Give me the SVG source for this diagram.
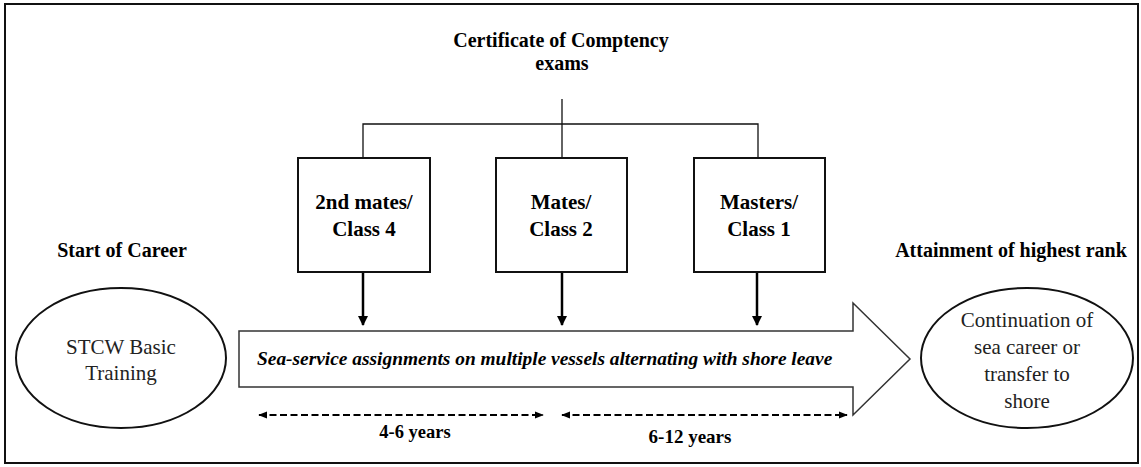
<svg xmlns="http://www.w3.org/2000/svg" width="1141" height="467" viewBox="0 0 1141 467">
<style>
.bt{font-family:"Liberation Serif","Times New Roman",serif;font-weight:bold;fill:#000}
.rt{font-family:"Liberation Serif","Times New Roman",serif;fill:#222}
.box{fill:#fff;stroke:#111;stroke-width:2}
.ell{fill:#fff;stroke:#111;stroke-width:2}
.conn{fill:none;stroke:#111;stroke-width:1.3}
.down{fill:none;stroke:#000;stroke-width:2.5}
.dash{fill:none;stroke:#000;stroke-width:2;stroke-dasharray:7,3.5}
</style>
<defs>
<marker id="ah" viewBox="0 0 10 10" refX="9" refY="5" markerWidth="10" markerHeight="10" markerUnits="userSpaceOnUse" orient="auto">
<path d="M0,0 L10,5 L0,10 z" fill="#000"/>
</marker>
<marker id="ahs" viewBox="0 0 10 10" refX="9" refY="5" markerWidth="9" markerHeight="9" markerUnits="userSpaceOnUse" orient="auto-start-reverse">
<path d="M0,1 L10,5 L0,9 z" fill="#000"/>
</marker>
</defs>
<rect x="0" y="0" width="1141" height="467" fill="#fff"/>
<rect x="5" y="4" width="1133" height="459" fill="none" stroke="#111" stroke-width="2"/>

<g id="title">
<text class="bt" x="561" y="47" font-size="20" text-anchor="middle">Certificate of Comptency</text>
<text class="bt" x="562" y="70" font-size="20" text-anchor="middle">exams</text>
</g>

<g id="connectors">
<path class="conn" d="M562,99 V158 M363,158 V124 H758 V158"/>
<line class="down" x1="363" y1="272" x2="363" y2="325" marker-end="url(#ah)"/>
<line class="down" x1="562" y1="272" x2="562" y2="325" marker-end="url(#ah)"/>
<line class="down" x1="757" y1="272" x2="757" y2="325" marker-end="url(#ah)"/>
<line class="dash" x1="259" y1="415" x2="543" y2="415" marker-start="url(#ahs)" marker-end="url(#ahs)"/>
<line class="dash" x1="562" y1="415" x2="847" y2="415" marker-start="url(#ahs)" marker-end="url(#ahs)"/>
</g>

<g id="box-2nd-mates">
<rect class="box" x="298" y="158" width="132" height="114"/>
<text class="bt" x="364" y="209" font-size="21" text-anchor="middle">2nd mates/</text>
<text class="bt" x="364" y="236" font-size="21" text-anchor="middle">Class 4</text>
</g>
<g id="box-mates">
<rect class="box" x="496" y="158" width="131" height="114"/>
<text class="bt" x="561" y="209" font-size="21" text-anchor="middle">Mates/</text>
<text class="bt" x="561" y="236" font-size="21" text-anchor="middle">Class 2</text>
</g>
<g id="box-masters">
<rect class="box" x="694" y="158" width="131" height="114"/>
<text class="bt" x="759" y="209" font-size="21" text-anchor="middle">Masters/</text>
<text class="bt" x="759" y="236" font-size="21" text-anchor="middle">Class 1</text>
</g>

<g id="start-label">
<text class="bt" x="122" y="257" font-size="20" text-anchor="middle">Start of Career</text>
</g>
<g id="end-label">
<text class="bt" x="1011" y="257" font-size="20" text-anchor="middle">Attainment of highest rank</text>
</g>

<g id="stcw">
<ellipse class="ell" cx="121" cy="358" rx="105" ry="70"/>
<text class="rt" x="121" y="354" font-size="21" text-anchor="middle">STCW Basic</text>
<text class="rt" x="121" y="380" font-size="21" text-anchor="middle">Training</text>
</g>

<g id="sea-service">
<polygon points="239,331 853,331 853,303 910,359 853,415 853,387 239,387" fill="#fff" stroke="#333" stroke-width="1.5"/>
<text class="bt" x="257" y="365" font-size="19.4" font-style="italic">Sea-service assignments on multiple vessels alternating with shore leave</text>
</g>

<g id="continuation">
<ellipse class="ell" cx="1027" cy="358" rx="106" ry="70"/>
<text class="rt" x="1027" y="327" font-size="21" text-anchor="middle">Continuation of</text>
<text class="rt" x="1027" y="354" font-size="21" text-anchor="middle">sea career or</text>
<text class="rt" x="1027" y="381" font-size="21" text-anchor="middle">transfer to</text>
<text class="rt" x="1027" y="408" font-size="21" text-anchor="middle">shore</text>
</g>

<g id="durations">
<text class="bt" x="415" y="438" font-size="18.5" text-anchor="middle">4-6 years</text>
<text class="bt" x="690" y="443" font-size="19" text-anchor="middle">6-12 years</text>
</g>
</svg>
